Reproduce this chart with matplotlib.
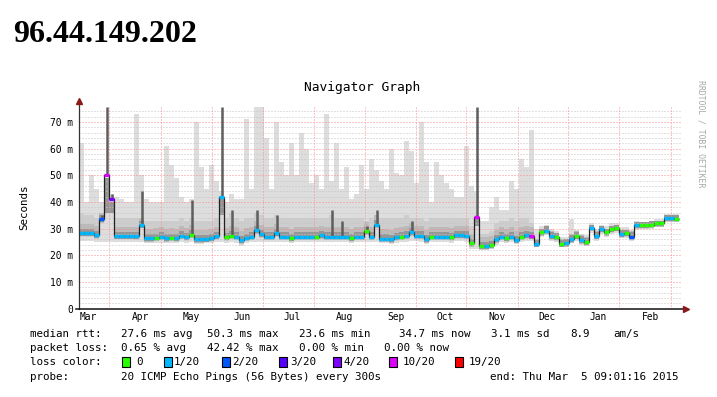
import matplotlib
matplotlib.use('Agg')
import matplotlib.pyplot as plt
import numpy as np

plt.rcParams['lines.scale_dashes'] = False

# ---- values: one value per 3-day bin, milliseconds ----
median_ms = [
    28.3, 28.3, 28.3, 27.6, 33.5, 50.0, 41.0, 27.3, 27.3, 27.3,
    27.3, 27.2, 31.4, 26.4, 26.4, 26.6, 27.0, 26.4, 26.6, 26.5,
    27.4, 26.8, 27.8, 26.0, 26.0, 26.2, 26.5, 27.2, 42.0, 26.8,
    27.4, 27.0, 25.6, 26.6, 27.0, 29.4, 28.0, 27.0, 27.0, 28.3,
    27.0, 27.0, 26.5, 27.0, 27.0, 27.0, 27.0, 27.0, 27.5, 27.0,
    27.0, 27.0, 27.0, 27.0, 26.5, 27.0, 27.0, 29.0, 27.0, 31.5,
    26.3, 26.3, 26.0, 26.8, 27.0, 27.4, 28.6, 27.4, 27.4, 26.0,
    27.0, 27.0, 27.0, 27.0, 26.8, 27.6, 27.6, 27.4, 24.5, 34.5,
    23.5, 23.5, 23.8, 26.0, 27.0, 26.5, 27.0, 25.8, 27.0, 27.6,
    27.3, 24.3, 28.6, 29.3, 27.2, 26.8, 24.3, 24.5, 26.0, 27.3,
    25.6, 25.0, 30.4, 27.3, 29.8, 28.6, 29.8, 30.3, 28.0, 28.3,
    27.0, 31.3, 31.3, 31.3, 31.5, 32.0, 32.0, 34.0, 34.0, 33.8,
]

# index into loss_labels / loss_colors
loss_level = [
    1, 1, 1, 1, 2, 5, 4, 1, 1, 1,
    1, 1, 1, 1, 1, 0, 1, 1, 0, 1,
    1, 1, 0, 1, 1, 1, 1, 1, 1, 0,
    0, 1, 1, 1, 1, 1, 1, 1, 1, 1,
    1, 1, 0, 1, 1, 1, 1, 0, 1, 1,
    1, 1, 1, 1, 0, 1, 1, 0, 1, 1,
    1, 1, 1, 1, 0, 1, 1, 1, 1, 1,
    0, 1, 1, 1, 0, 1, 1, 1, 0, 5,
    0, 1, 0, 1, 1, 0, 1, 1, 0, 1,
    5, 1, 0, 1, 1, 0, 0, 1, 1, 0,
    1, 0, 1, 1, 1, 0, 0, 0, 1, 0,
    2, 1, 0, 0, 0, 0, 0, 1, 1, 0,
]

smoke_lo = [
    25.5, 25.5, 25.5, 25.0, 25.0, 25.0, 25.0, 25.0, 25.0, 25.0,
    25.0, 25.0, 25.0, 24.5, 24.5, 24.5, 24.8, 24.5, 24.5, 24.5,
    25.0, 24.8, 25.0, 24.3, 24.3, 24.5, 24.5, 25.0, 25.0, 24.8,
    25.0, 24.5, 23.5, 24.5, 25.0, 25.0, 25.0, 25.0, 25.0, 25.0,
    25.0, 25.0, 24.5, 25.0, 25.0, 25.0, 25.0, 25.0, 25.0, 25.0,
    25.0, 25.0, 25.0, 25.0, 24.5, 25.0, 25.0, 25.0, 25.0, 25.0,
    24.5, 24.5, 24.3, 24.8, 25.0, 25.0, 25.5, 25.3, 25.0, 24.3,
    25.0, 25.0, 25.0, 25.0, 24.8, 25.3, 25.3, 25.0, 22.5, 22.3,
    22.0, 22.0, 22.3, 24.0, 25.0, 24.8, 25.0, 24.3, 25.0, 25.3,
    25.5, 23.0, 27.0, 27.5, 25.5, 25.0, 23.0, 23.0, 24.5, 25.5,
    24.0, 23.5, 28.5, 25.5, 28.0, 27.0, 28.0, 28.5, 26.5, 26.5,
    25.5, 29.5, 29.8, 29.8, 30.0, 30.5, 30.5, 32.5, 32.5, 32.5,
]

smoke_mid = [
    36, 35, 35, 34, 36, 36, 36, 34, 34, 34,
    34, 34, 34, 33, 33, 33, 33, 33, 33, 33,
    34, 33, 34, 33, 33, 33, 33, 34, 35, 34,
    36, 34, 33, 34, 34, 36, 35, 34, 34, 35,
    34, 34, 34, 34, 34, 34, 34, 34, 34, 34,
    35, 34, 34, 34, 34, 34, 34, 33, 34, 35,
    34, 34, 34, 34, 34, 35, 34, 34, 34, 33,
    34, 34, 34, 34, 34, 34, 34, 34, 31, 31,
    28, 28, 29, 32, 33, 33, 34, 33, 34, 34,
    32, 26, 30, 31, 29, 28.5, 26, 26, 28, 29,
    27.5, 27, 31.5, 29, 31, 30, 31, 31.5, 29.5, 29.5,
    29, 32.5, 32.5, 32.5, 33, 33, 33, 35, 35, 35,
]

smoke_hi = [
    62, 40, 50, 45, 40, 42, 43, 42, 41, 40,
    40, 73, 50, 41, 40, 40, 40, 61, 54, 49,
    42, 40, 41, 70, 53, 45, 54, 48, 44, 40,
    43, 41, 41, 71, 45, 75.5, 75.5, 64, 45, 70,
    55, 50, 62, 50, 66, 60, 47, 50, 45, 73,
    48, 62, 45, 53, 41, 43, 54, 45, 56, 52,
    48, 45, 60, 51, 50, 63, 59, 47, 70, 55,
    40, 55, 50, 47, 45, 42, 42, 61, 46, 44,
    33, 33, 38, 42, 37, 37, 48, 45, 56, 53,
    67, 30, 31, 31.5, 30, 29, 27, 27, 33.6, 29.5,
    28, 27.5, 32, 30, 31.5, 31, 32, 32, 30.5, 30.5,
    29.5, 33, 32.5, 32.5, 33, 33.5, 33.5, 35.5, 35.5, 35.5,
]

# dark columns where all pings of a bin were spread high
spike_bins = [4, 5, 6, 12, 22, 28, 30, 35, 39, 50, 52, 57, 59, 66, 79]
spike_top = [35, 75.5, 43, 44, 40.6, 75.5, 37, 37, 35, 37, 33, 31, 37, 33, 75.5]

month_labels = ['Mar', 'Apr', 'May', 'Jun', 'Jul', 'Aug', 'Sep', 'Oct', 'Nov', 'Dec', 'Jan', 'Feb']
month_label_day = [5.7, 36.9, 67.2, 97.8, 127.8, 159.0, 189.9, 219.9, 250.8, 280.8, 311.7, 342.6]
month_grid_day = [18.2, 49.1, 79.6, 110.3, 141.0, 171.4, 202.0, 232.2, 263.2, 293.4, 324.0, 355.2]

loss_labels = ['0', '1/20', '2/20', '3/20', '4/20', '10/20', '19/20']
loss_colors = ['#26ff00', '#00b8ff', '#0059ff', '#5700ff', '#7e00ff', '#dd00ff', '#ff0000']

bin_days = 3
mono = 'DejaVu Sans Mono'
fs = 7.8

med = np.array(median_ms)
lo = np.array(smoke_lo)
mid = np.array(smoke_mid, dtype=float)
n = len(med)
edges = np.arange(n + 1) * bin_days
centers = edges[:-1] + bin_days / 2

fig = plt.figure(figsize=(7.17, 3.97), dpi=100)
ax = fig.add_axes([79 / 717, (397 - 308.7) / 397, 602 / 717, 201.3 / 397])
ax.set_xlim(0, 361.2)
ax.set_ylim(0, 75.5)

# smoke
ax.stairs(smoke_hi, edges, baseline=lo, fill=True, color='#dddddd', lw=0, zorder=1)
ax.stairs(mid, edges, baseline=med - 1.3, fill=True, color='#cdcdcd', lw=0, zorder=1.1)
ax.stairs(np.minimum(med + 3.5, mid), edges, baseline=med - 1.2, fill=True,
          color='#bababa', lw=0, zorder=1.15)
ax.stairs(np.minimum(med + 1.6, mid), edges, baseline=med - 1.0, fill=True,
          color='#969696', lw=0, zorder=1.2)

# grid
for v in np.arange(2, 76, 2):
    if v % 10:
        ax.axhline(v, color='#c4c4c4', lw=0.72, dashes=(0.72, 1.44), zorder=2)
for v in range(10, 80, 10):
    ax.axhline(v, color='#ff8c8c', lw=0.72, dashes=(0.72, 1.44), zorder=2.1)
for d in month_grid_day:
    ax.axvline(d, color='#ff8c8c', lw=0.72, dashes=(0.72, 1.44), zorder=2.1)

sb = np.array(spike_bins)
ax.vlines(centers[sb], med[sb], spike_top, color='#5e5e5e', lw=1.8, zorder=2.5)

# median line coloured by loss
ax.stairs(med, edges, baseline=None, color='#202020', lw=0.9, zorder=3)
lvl = np.array(loss_level)
for k, c in enumerate(loss_colors):
    m = lvl == k
    if m.any():
        ax.hlines(med[m], edges[:-1][m], edges[1:][m], color=c, lw=2.4, zorder=4)

# axes
for s in ax.spines.values():
    s.set_visible(False)
ax.plot([0, 0], [0, 1.02], transform=ax.transAxes, color='#333333', lw=0.9, clip_on=False, zorder=5)
ax.plot([-0.005, 1.005], [0, 0], transform=ax.transAxes, color='#111111', lw=1.1, clip_on=False, zorder=5)
ax.plot([0], [1.03], transform=ax.transAxes, marker='^', ms=5, color='#8b1a1a', clip_on=False, zorder=6)
ax.plot([1.008], [0], transform=ax.transAxes, marker='>', ms=5, color='#8b1a1a', clip_on=False, zorder=6)

ax.set_yticks(range(0, 80, 10))
ax.set_yticklabels(['0'] + ['%d m' % v for v in range(10, 80, 10)])
ax.set_xticks(month_label_day)
ax.set_xticklabels(month_labels)
ax.tick_params(length=0, labelsize=6.9)
ax.tick_params(axis='y', pad=4.3)
ax.tick_params(axis='x', pad=2.5)
for t in ax.get_xticklabels() + ax.get_yticklabels():
    t.set_fontfamily(mono)

fig.text(13 / 717, 1 - 34.5 / 397, '96.44.149.202', fontfamily='Liberation Serif',
         fontweight='bold', fontsize=23, ha='left', va='center')
fig.text(362 / 717, 1 - 88 / 397, 'Navigator Graph', fontfamily=mono, fontsize=9.3,
         ha='center', va='center')
fig.text(24 / 717, 1 - 207 / 397, 'Seconds', fontfamily=mono, fontsize=fs,
         rotation=90, ha='center', va='center')
fig.text(701.5 / 717, 1 - 134 / 397, 'RRDTOOL / TOBI OETIKER', fontfamily=mono, fontsize=5.9,
         color='#a8a8a8', rotation=270, ha='center', va='center')

# legend block
def line(y, items):
    for x, s in items:
        fig.text(x / 717, 1 - y / 397, s, fontfamily=mono, fontsize=fs, ha='left', va='center')

line(334.3, [(30, 'median rtt:'), (120.7, '27.6 ms avg'), (207, '50.3 ms max'),
             (299, '23.6 ms min'), (399, '34.7 ms now'), (491, '3.1 ms sd'),
             (570, '8.9'), (613, 'am/s')])
line(348.3, [(30, 'packet loss:'), (120.7, '0.65 % avg'), (206.7, '42.42 % max'),
             (299, '0.00 % min'), (384, '0.00 % now')])
line(362.3, [(30, 'loss color:')])
line(376.7, [(30, 'probe:'), (120.7, '20 ICMP Echo Pings (56 Bytes) every 300s'),
             (490, 'end: Thu Mar  5 09:01:16 2015')])

box_x = [121.7, 164, 221.7, 279.3, 333.3, 389.5, 454.7]
text_x = [136.7, 174, 232.3, 290, 344, 403, 469]
for bx, tx, lab, c in zip(box_x, text_x, loss_labels, loss_colors):
    fig.patches.append(plt.Rectangle((bx / 717, 1 - 367.3 / 397), 8 / 717, 10 / 397,
                                     transform=fig.transFigure, facecolor=c,
                                     edgecolor='black', lw=0.8))
    fig.text(tx / 717, 1 - 362.3 / 397, lab, fontfamily=mono, fontsize=fs, ha='left', va='center')

fig.savefig('out.png', dpi=100)
